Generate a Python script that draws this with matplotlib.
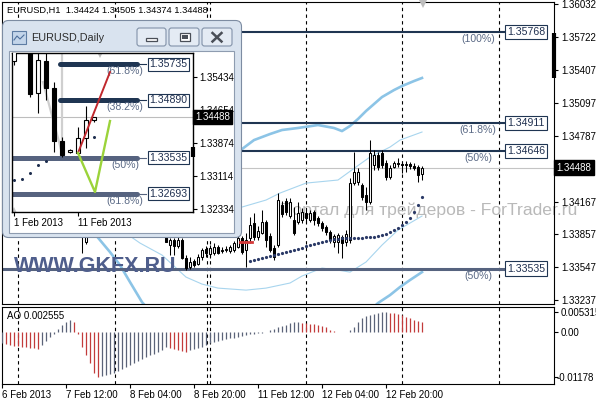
import matplotlib
matplotlib.use('Agg')
import matplotlib.pyplot as plt
import matplotlib.patches as mpatches
import matplotlib.transforms as mtrans
import numpy as np

plt.rcParams['font.family'] = ['Liberation Sans', 'DejaVu Sans']

# ---------------- data: EURUSD H1 ----------------
opens = [1.3525, 1.3522, 1.3519, 1.3524, 1.3530, 1.3535, 1.3533, 1.3538, 1.3544, 1.3548,
         1.3545, 1.3550, 1.3553, 1.3557, 1.3554, 1.3551, 1.3547, 1.3510, 1.3468, 1.3440,
         1.3412, 1.33790, 1.3402, 1.3418, 1.3426, 1.3420, 1.3412, 1.3419, 1.3428, 1.3422,
         1.3414, 1.3406, 1.3410, 1.3404, 1.3398, 1.3407, 1.3402, 1.3396, 1.3400, 1.3394,
         1.3391, 1.3388, 1.33757, 1.33804, 1.33748, 1.33804, 1.33634, 1.33550, 1.33606, 1.33578,
         1.33644, 1.33720, 1.33672, 1.33682, 1.33738, 1.33705, 1.33710, 1.33701, 1.33710, 1.33738,
         1.33823, 1.33710, 1.33823, 1.33965, 1.33833, 1.33870, 1.33974, 1.33842, 1.33729, 1.33757,
         1.34135, 1.34173, 1.34031, 1.33993, 1.33974, 1.33993, 1.34059, 1.33993, 1.34069, 1.34012,
         1.33965, 1.33927, 1.33880, 1.33785, 1.33785, 1.33833, 1.33785, 1.33804, 1.34342, 1.34352,
         1.34324, 1.34229, 1.34163, 1.34512, 1.34607, 1.34626, 1.34531, 1.34399, 1.34494, 1.34531,
         1.34522, 1.34512, 1.34522, 1.34503, 1.34494, 1.34424]
highs = [1.3531, 1.3528, 1.3526, 1.3533, 1.3538, 1.3542, 1.3540, 1.3547, 1.3552, 1.3556,
         1.3553, 1.3558, 1.3562, 1.3564, 1.3560, 1.3558, 1.3553, 1.3515, 1.3478, 1.3448,
         1.3418, 1.3410, 1.3425, 1.3432, 1.3438, 1.3430, 1.3425, 1.3434, 1.3440, 1.3430,
         1.3424, 1.3418, 1.3422, 1.3413, 1.3410, 1.3416, 1.3411, 1.3405, 1.3408, 1.3402,
         1.3399, 1.3395, 1.33823, 1.33823, 1.33833, 1.33823, 1.33663, 1.33644, 1.33625, 1.33672,
         1.33729, 1.33748, 1.33757, 1.33776, 1.33757, 1.33738, 1.33748, 1.33757, 1.33795, 1.33842,
         1.33842, 1.33870, 1.34022, 1.34059, 1.33936, 1.34088, 1.33993, 1.33870, 1.33757, 1.34248,
         1.34173, 1.34201, 1.34201, 1.34116, 1.34163, 1.34106, 1.34106, 1.34088, 1.34088, 1.34031,
         1.33984, 1.33946, 1.33899, 1.33861, 1.33870, 1.33852, 1.33899, 1.34390, 1.34635, 1.34484,
         1.34342, 1.34305, 1.34748, 1.34654, 1.34635, 1.34654, 1.34560, 1.34512, 1.34550, 1.34578,
         1.34541, 1.34550, 1.34541, 1.34531, 1.34512, 1.34505]
lows = [1.3518, 1.3515, 1.3512, 1.3520, 1.3526, 1.3529, 1.3527, 1.3534, 1.3539, 1.3542,
        1.3538, 1.3545, 1.3548, 1.3550, 1.3546, 1.3542, 1.3505, 1.3462, 1.3432, 1.3405,
        1.33682, 1.33770, 1.3396, 1.3410, 1.3415, 1.3405, 1.3401, 1.3412, 1.3418, 1.3408,
        1.3400, 1.3395, 1.3402, 1.3392, 1.3390, 1.3398, 1.3393, 1.3389, 1.3391, 1.3387,
        1.33850, 1.33785, 1.33663, 1.33663, 1.33729, 1.33625, 1.33521, 1.33531, 1.33550, 1.33568,
        1.33616, 1.33644, 1.33634, 1.33663, 1.33672, 1.33682, 1.33691, 1.33682, 1.33691, 1.33729,
        1.33672, 1.33550, 1.33776, 1.33804, 1.33804, 1.33861, 1.33738, 1.33691, 1.33616, 1.33738,
        1.34022, 1.34040, 1.34012, 1.33852, 1.33955, 1.33965, 1.33965, 1.33974, 1.33946, 1.33936,
        1.33889, 1.33852, 1.33776, 1.33738, 1.33682, 1.33634, 1.33748, 1.33776, 1.34324, 1.34324,
        1.34182, 1.34088, 1.34144, 1.34465, 1.34465, 1.34484, 1.34371, 1.34380, 1.34484, 1.34494,
        1.34437, 1.34446, 1.34475, 1.34465, 1.34352, 1.34374]
closes = [1.3522, 1.3519, 1.3524, 1.3530, 1.3535, 1.3533, 1.3538, 1.3544, 1.3548, 1.3545,
          1.3550, 1.3553, 1.3557, 1.3554, 1.3551, 1.3547, 1.3510, 1.3468, 1.3440, 1.3412,
          1.3392, 1.3402, 1.3418, 1.3426, 1.3420, 1.3412, 1.3419, 1.3428, 1.3422, 1.3414,
          1.3406, 1.3410, 1.3404, 1.3398, 1.3407, 1.3402, 1.3396, 1.3400, 1.3394, 1.3391,
          1.3388, 1.33790, 1.33804, 1.33748, 1.33804, 1.33634, 1.33540, 1.33597, 1.33568, 1.33644,
          1.33710, 1.33682, 1.33729, 1.33738, 1.33682, 1.33715, 1.33720, 1.33738, 1.33776, 1.33823,
          1.33691, 1.33804, 1.33946, 1.33833, 1.33889, 1.33974, 1.33804, 1.33710, 1.33644, 1.34182,
          1.34050, 1.34069, 1.34163, 1.33870, 1.34059, 1.34069, 1.34012, 1.34059, 1.33993, 1.33965,
          1.33918, 1.33880, 1.33804, 1.33842, 1.33852, 1.33776, 1.33861, 1.34342, 1.34446, 1.34446,
          1.34210, 1.34163, 1.34626, 1.34607, 1.34494, 1.34512, 1.34399, 1.34484, 1.34531, 1.34522,
          1.34512, 1.34522, 1.34503, 1.34484, 1.34418, 1.34488]

ao_values = [-0.00289, -0.00316, -0.00342, -0.00355, -0.00368, -0.00381, -0.00395, -0.00408, -0.00421, -0.00434,
             -0.00342, -0.00237, -0.00132, -0.00053, 0.00079, 0.00184, 0.00263, 0.00316, 0.00263, -0.00053,
             -0.00395, -0.00605, -0.00815, -0.01078, -0.01178, -0.01160, -0.01130, -0.01100, -0.01060, -0.01010,
             -0.00960, -0.00910, -0.00860, -0.00810, -0.00760, -0.00710, -0.00660, -0.00610, -0.00560, -0.00510,
             -0.00460, -0.00400, -0.00410, -0.00440, -0.00470, -0.00500, -0.00530, -0.00480, -0.00450, -0.00420,
             -0.00390, -0.00340, -0.00290, -0.00265, -0.00240, -0.00215, -0.00190, -0.00165, -0.00140, -0.00115,
             -0.00095, -0.00080, -0.00060, -0.00045, -0.00030, -0.00015, -0.00005, 0.00050, 0.00080, 0.00130,
             0.00160, 0.00185, 0.00240, 0.00260, 0.00265, 0.00245, 0.00235, 0.00220, 0.00205, 0.00185,
             0.00160, 0.00130, 0.00045, 0.00025, 0.00012, 0.00005, 0.00010, 0.00060, 0.00130, 0.00265,
             0.00370, 0.00420, 0.00460, 0.00490, 0.00510, 0.00522, 0.005315, 0.00515, 0.00500, 0.00475,
             0.00445, 0.00410, 0.00370, 0.00330, 0.00295, 0.002555]

sar_first_bar = 62
sar_values = [1.33606, 1.33616, 1.33625, 1.33634, 1.33644, 1.33653, 1.33663, 1.33672, 1.33682, 1.33691,
              1.33701, 1.33710, 1.33720, 1.33729, 1.33748, 1.33757, 1.33767, 1.33776, 1.33785, 1.33795,
              1.33804, 1.33814, 1.33814, 1.33823, 1.33823, 1.33823, 1.33823, 1.33823, 1.33823, 1.33833,
              1.33833, 1.33833, 1.33842, 1.33852, 1.33861, 1.33880, 1.33899, 1.33918, 1.33946, 1.33974,
              1.34012, 1.34069, 1.34135, 1.34210]

bb_wide_up_bar = [50, 55, 60, 63, 67, 70, 74, 79, 83, 85, 87, 89, 91, 93, 95, 98, 100, 103, 105]
bb_wide_up = [1.34560, 1.34607, 1.34663, 1.34748, 1.34805, 1.34843, 1.34862, 1.34890, 1.34862, 1.34833,
              1.34881, 1.34947, 1.35022, 1.35088, 1.35154, 1.35220, 1.35258, 1.35305, 1.35334]
bb_wide_lo_bar = [18, 22, 24.5, 27, 29.5, 32, 35, 40, 50, 60, 70, 80, 88, 94, 97, 99.5, 102, 105]
bb_wide_lo = [1.34088, 1.33918, 1.33804, 1.33691, 1.33568, 1.33408, 1.33219, 1.33002, 1.32860, 1.32813,
              1.32813, 1.32860, 1.33002, 1.33210, 1.33285, 1.33361, 1.33427, 1.33502]
bb_thin_up_bar = [55, 60, 66, 69.5, 76, 84, 88.5, 92, 97, 99.5, 105]
bb_thin_up = [1.34069, 1.34116, 1.34182, 1.34248, 1.34342, 1.34371, 1.34494, 1.34588, 1.34682, 1.34748, 1.34824]
bb_thin_lo_bar = [28, 34.5, 40, 46, 50, 54, 61, 66, 72, 75, 80, 84, 87, 91, 95, 99, 105]
bb_thin_lo = [1.33946, 1.33776, 1.33663, 1.33455, 1.33389, 1.33351, 1.33332, 1.33351, 1.33399, 1.33465,
              1.33540, 1.33521, 1.33502, 1.33597, 1.33757, 1.33899, 1.34031]

fib_levels = [1.35768, 1.34911, 1.34646, 1.33535]
fib_pcts = ['(100%)', '(61.8%)', '(50%)', '(50%)']
fib_colors = ['#1f3552', '#1f3552', '#1f3552', '#56637f']
fib_widths = [1.5, 1.5, 1.5, 2.2]

red_mark_bars = [59.5, 62.5]
red_mark_price = [1.33785, 1.33785]

day_breaks = [4, 28.25, 51.25, 52, 76, 100, 124.25]
time_tick_bars = [0, 16, 32, 48, 64, 80, 96]
time_tick_labels = ['6 Feb 2013', '7 Feb 12:00', '8 Feb 04:00', '8 Feb 20:00',
                    '11 Feb 12:00', '12 Feb 04:00', '12 Feb 20:00']
price_ticks = [1.36032, 1.35722, 1.35407, 1.35097, 1.34787, 1.34167, 1.33857, 1.33547, 1.33237]
ao_ticks = [0.005315, 0.0, -0.01178]
ao_tick_labels = ['0.005315', '0.00', '-0.01178']
last_price = 1.34488

# ---------------- data: EURUSD Daily (inset window) ----------------
d_open = [1.3582, 1.3640, 1.3635, 1.3505, 1.3582, 1.3518, 1.3393, 1.3368, 1.3365, 1.3400, 1.34424]
d_high = [1.3711, 1.3648, 1.3646, 1.3600, 1.3600, 1.3532, 1.3402, 1.3375, 1.3426, 1.3475, 1.34505]
d_low = [1.3572, 1.3632, 1.3496, 1.34588, 1.34894, 1.33673, 1.33544, 1.3365, 1.33626, 1.3377, 1.34374]
d_close = [1.3637, 1.3636, 1.3503, 1.3583, 1.3518, 1.3393, 1.3360, 1.3371, 1.3400, 1.3443, 1.34488]
d_sar = [1.33016, 1.33039, 1.33180, 1.33368, 1.33462, 1.3711, 1.3705, 1.3695, 1.3685, 1.3675, 1.34025]
d_fib_levels = [1.35735, 1.34890, 1.33535, 1.32693]
d_fib_pcts = ['(61.8%)', '(38.2%)', '(50%)', '(61.8%)']
d_fib_start = [5.75, 5.75, -0.25, -0.25]
d_fib_colors = ['#1f3552', '#1f3552', '#56637f', '#56637f']
d_red_bars = [8, 12]
d_red_prices = [1.33650, 1.35551]
d_green_bars = [8, 10.125, 12]
d_green_prices = [1.33650, 1.32734, 1.34401]
d_gray_bars = [3.625, 6, 6]
d_gray_prices = [1.35317, 1.33650, 1.3600]
d_price_ticks = [1.35434, 1.34654, 1.33874, 1.33114, 1.32334]
d_date_bars = [0, 8]
d_date_labels = ['1 Feb 2013', '11 Feb 2013']

# ---------------- figure ----------------
W, H = 596, 400
fig = plt.figure(figsize=(W / 100, H / 100), dpi=100)
fig.patch.set_facecolor('white')


def box(x0, y0, x1, y1):
    return [x0 / W, 1 - y1 / H, (x1 - x0) / W, (y1 - y0) / H]


def draw_candles(a, xs, o, h, l, c, width, lw, doji_tol, z=3):
    for x, oo, hh, ll, cc in zip(xs, o, h, l, c):
        a.vlines(x, ll, hh, color='black', lw=lw, zorder=z)
        if abs(cc - oo) < doji_tol:
            a.hlines((oo + cc) / 2, x - width / 2, x + width / 2, color='black', lw=lw, zorder=z + 0.1)
        else:
            a.add_patch(mpatches.Rectangle((x - width / 2, min(oo, cc)), width, abs(cc - oo),
                                           facecolor='white' if cc > oo else 'black',
                                           edgecolor='black', lw=lw, zorder=z + 0.1))


ax = fig.add_axes(box(2, 2, 554, 304))
ao = fig.add_axes(box(2, 307, 554, 384))
bars = np.arange(len(opens))

ax.set_xlim(0, 138)
ax.set_ylim(1.33201, 1.36051)
for a in (ax, ao):
    for s in a.spines.values():
        s.set_linewidth(0.8)
        s.set_color('black')
    for x in day_breaks:
        a.axvline(x, color='black', lw=0.8, ls=(0, (3, 3)), zorder=1)

# current price line
ax.axhline(last_price, color='#c4c4c4', lw=0.8, zorder=1.2)

# Bollinger bands
ax.plot(bb_wide_up_bar, bb_wide_up, color='#8cc4e6', lw=1.9, zorder=2)
ax.plot(bb_wide_lo_bar, bb_wide_lo, color='#8cc4e6', lw=1.9, zorder=2)
ax.plot(bb_thin_up_bar, bb_thin_up, color='#a8d5ee', lw=0.8, zorder=2)
ax.plot(bb_thin_lo_bar, bb_thin_lo, color='#a8d5ee', lw=0.8, zorder=2)

# Fibonacci levels
for lvl, pct, col, lw in zip(fib_levels, fib_pcts, fib_colors, fib_widths):
    ax.plot([0, 125.75], [lvl, lvl], color=col, lw=lw, zorder=2.5, solid_capstyle='butt')
    ax.annotate(pct, xy=(119, lvl), xytext=(0, -7), textcoords='offset pixels',
                ha='center', va='center', fontsize=7.6, color='#5b6a86', zorder=2.6)
    ax.text(126.3, lvl, f'{lvl:.5f}', ha='left', va='center', fontsize=7.6, color='#1f2f4f',
            zorder=2.7, bbox=dict(boxstyle='square,pad=0.2', fc='white', ec='#1f3552', lw=0.8))

# watermarks
ax.text(280 / W, 1 - 210 / H, 'Портал для трейдеров - ForTrader.ru', transform=fig.transFigure,
        fontsize=12.6, color='#b9b9b9', ha='left', va='center', zorder=1.5, clip_on=False)
ax.text(14 / W, 1 - 266.5 / H, 'WWW.GKFX.RU', transform=fig.transFigure,
        fontsize=15.5, fontweight='bold', color='#4f5e8c', ha='left', va='center', zorder=5)

# candles
draw_candles(ax, bars, opens, highs, lows, closes, 0.55, 0.75, 0.00006)

# parabolic SAR
ax.plot(np.arange(sar_first_bar, sar_first_bar + len(sar_values)), sar_values, ls='none',
        marker='o', ms=2.3, mew=0, color='#2b3a67', zorder=4)
ax.plot(red_mark_bars, red_mark_price, color='#d43a3a', lw=2.0, zorder=4)
ax.plot([105.25], [1.3603], marker='v', ms=6, color='#bdbdbd', mew=0, zorder=4, clip_on=False)

# right price scale
ax.yaxis.tick_right()
ax.set_yticks(price_ticks)
ax.set_yticklabels([f'{v:.5f}' for v in price_ticks])
ax.tick_params(axis='y', length=3, width=0.8, pad=2, labelsize=7)
ax.tick_params(axis='x', bottom=False, labelbottom=False)
ax.plot([138, 138], [1.35334, 1.35758], color='black', lw=3, clip_on=False, zorder=6,
        solid_capstyle='butt')
ax.text(1.0045, last_price, f'{last_price:.5f}', transform=ax.get_yaxis_transform(),
        ha='left', va='center', fontsize=7, color='white', zorder=7,
        bbox=dict(boxstyle='square,pad=0.25', fc='black', ec='black'))

fig.text(7 / W, 1 - 10 / H,
         f'EURUSD,H1  {opens[-1]:.5f} {highs[-1]:.5f} {lows[-1]:.5f} {closes[-1]:.5f}',
         fontsize=6.7, color='black', ha='left', va='center')

# AO panel
ao.set_xlim(0, 138)
ao.set_ylim(-0.013621, 0.00663)
ao_colors = ['#5b6378'] + ['#5b6378' if ao_values[k] >= ao_values[k - 1] else '#c23b3b'
                           for k in range(1, len(ao_values))]
ao.vlines(bars, 0, ao_values, colors=ao_colors, lw=0.9, zorder=3)
ao.yaxis.tick_right()
ao.set_yticks(ao_ticks)
ao.set_yticklabels(ao_tick_labels)
ao.tick_params(axis='y', length=3, width=0.8, pad=2, labelsize=7)
neg_lbl = ao.get_yticklabels()[2]
neg_lbl.set_transform(neg_lbl.get_transform() + mtrans.ScaledTranslation(-4 / 100, 0, fig.dpi_scale_trans))
ao.set_xticks(time_tick_bars)
ao.set_xticklabels(time_tick_labels)
ao.tick_params(axis='x', length=3, width=0.8, pad=1.5, labelsize=7)
for lbl in ao.get_xticklabels():
    lbl.set_ha('left')
fig.text(7 / W, 1 - 316 / H, f'AO {ao_values[-1]:.6f}', fontsize=7, ha='left', va='center')

# ---------------- inset window (EURUSD,Daily) ----------------
win = fig.add_axes([0, 0, 1, 1], zorder=10)
win.set_xlim(0, W)
win.set_ylim(H, 0)
win.axis('off')
win.patch.set_alpha(0)
win.add_patch(mpatches.FancyBboxPatch((2.5, 20.5), 239, 217, boxstyle='round,pad=0,rounding_size=6',
                                      fc='#d9e3ef', ec='#7d8ca2', lw=0.8))
win.add_patch(mpatches.Rectangle((8.5, 50.5), 225, 182, fc='white', ec='#8e9cb0', lw=0.8))
win.add_patch(mpatches.Rectangle((12, 31), 14, 13, fc='#c3d5ea', ec='#5d7ca3', lw=0.8))
win.plot([14, 17, 20, 24], [40, 36, 39, 35], color='#4d6f9c', lw=0.8)
win.text(31, 38, 'EURUSD,Daily', fontsize=7.8, color='#2d2d2d', ha='left', va='center')
for bx0, bx1 in [(137, 166), (169, 199), (202, 232)]:
    win.add_patch(mpatches.FancyBboxPatch((bx0, 28), bx1 - bx0, 18,
                                          boxstyle='round,pad=0,rounding_size=2.5',
                                          fc='#e4ebf4', ec='#8292a9', lw=0.8))
win.add_patch(mpatches.Rectangle((146, 37.5), 11, 3, fc='white', ec='#4a4f58', lw=0.9))
win.add_patch(mpatches.Rectangle((179.5, 32.5), 10, 8, fc='white', ec='#4a4f58', lw=0.9))
win.add_patch(mpatches.Rectangle((181.5, 35), 6, 3.5, fc='#4a4f58', ec='none'))
win.plot([212.5, 221.5], [33, 41.5], color='#4a4f58', lw=1.8)
win.plot([212.5, 221.5], [41.5, 33], color='#4a4f58', lw=1.8)

ins = fig.add_axes(box(12, 53, 193, 212), zorder=11)
ins.set_facecolor('white')
ins.set_xlim(-0.25, 22.375)
ins.set_ylim(1.32264, 1.35998)
for s in ins.spines.values():
    s.set_linewidth(1.0)
    s.set_color('black')
dbars = np.arange(len(d_open))
ins.axhline(last_price, color='#bdbdbd', lw=0.8, zorder=1)
ins.plot(d_gray_bars, d_gray_prices, color='#cfcfcf', lw=1.6, zorder=1.5)
ins.plot([10.75], [1.3594], marker='v', ms=5, color='#bdbdbd', mew=0, zorder=1.5)
ins.plot([0], [1.3232], marker='^', ms=4, color='#c8c8c8', mew=0, zorder=1.5)
for lvl, pct, start, col in zip(d_fib_levels, d_fib_pcts, d_fib_start, d_fib_colors):
    ins.plot([start, 15.4], [lvl, lvl], color=col, lw=3.6, solid_capstyle='round', zorder=2)
    ins.plot([15.4, 16.5], [lvl, lvl], color=col, lw=0.8, zorder=2)
    ins.annotate(pct, xy=(13.9, lvl), xytext=(0, -7), textcoords='offset pixels',
                 ha='center', va='center', fontsize=7.6, color='#5b6a86', zorder=2.2)
    ins.text(16.9, lvl, f'{lvl:.5f}', ha='left', va='center', fontsize=7.6, color='#1f2f4f',
             zorder=2.3, bbox=dict(boxstyle='square,pad=0.15', fc='white', ec='#1f3552', lw=0.8))
draw_candles(ins, dbars, d_open, d_high, d_low, d_close, 0.62, 0.8, 0.00012, z=3)
ins.plot(d_red_bars, d_red_prices, color='#c0282d', lw=1.4, zorder=4)
ins.plot(d_green_bars, d_green_prices, color='#9bd33a', lw=1.7, zorder=4)
ins.plot(dbars, d_sar, ls='none', marker='o', ms=2.2, mew=0, color='#1f2f4f', zorder=4)
ins.plot([22.375, 22.375], [1.33556, 1.33790], color='black', lw=3, clip_on=False, zorder=6,
         solid_capstyle='butt')
ins.yaxis.tick_right()
ins.set_yticks(d_price_ticks)
ins.set_yticklabels([f'{v:.5f}' for v in d_price_ticks])
ins.tick_params(axis='y', length=3, width=0.8, pad=1.5, labelsize=7)
ins.set_xticks(d_date_bars)
ins.set_xticklabels(d_date_labels)
ins.tick_params(axis='x', length=3, width=0.8, pad=1.5, labelsize=7)
for lbl in ins.get_xticklabels():
    lbl.set_ha('left')
ins.text(1.012, last_price, f'{last_price:.5f}', transform=ins.get_yaxis_transform(),
         ha='left', va='center', fontsize=7, color='white', zorder=7,
         bbox=dict(boxstyle='square,pad=0.2', fc='black', ec='black'))

fig.savefig('out.png', dpi=100)
